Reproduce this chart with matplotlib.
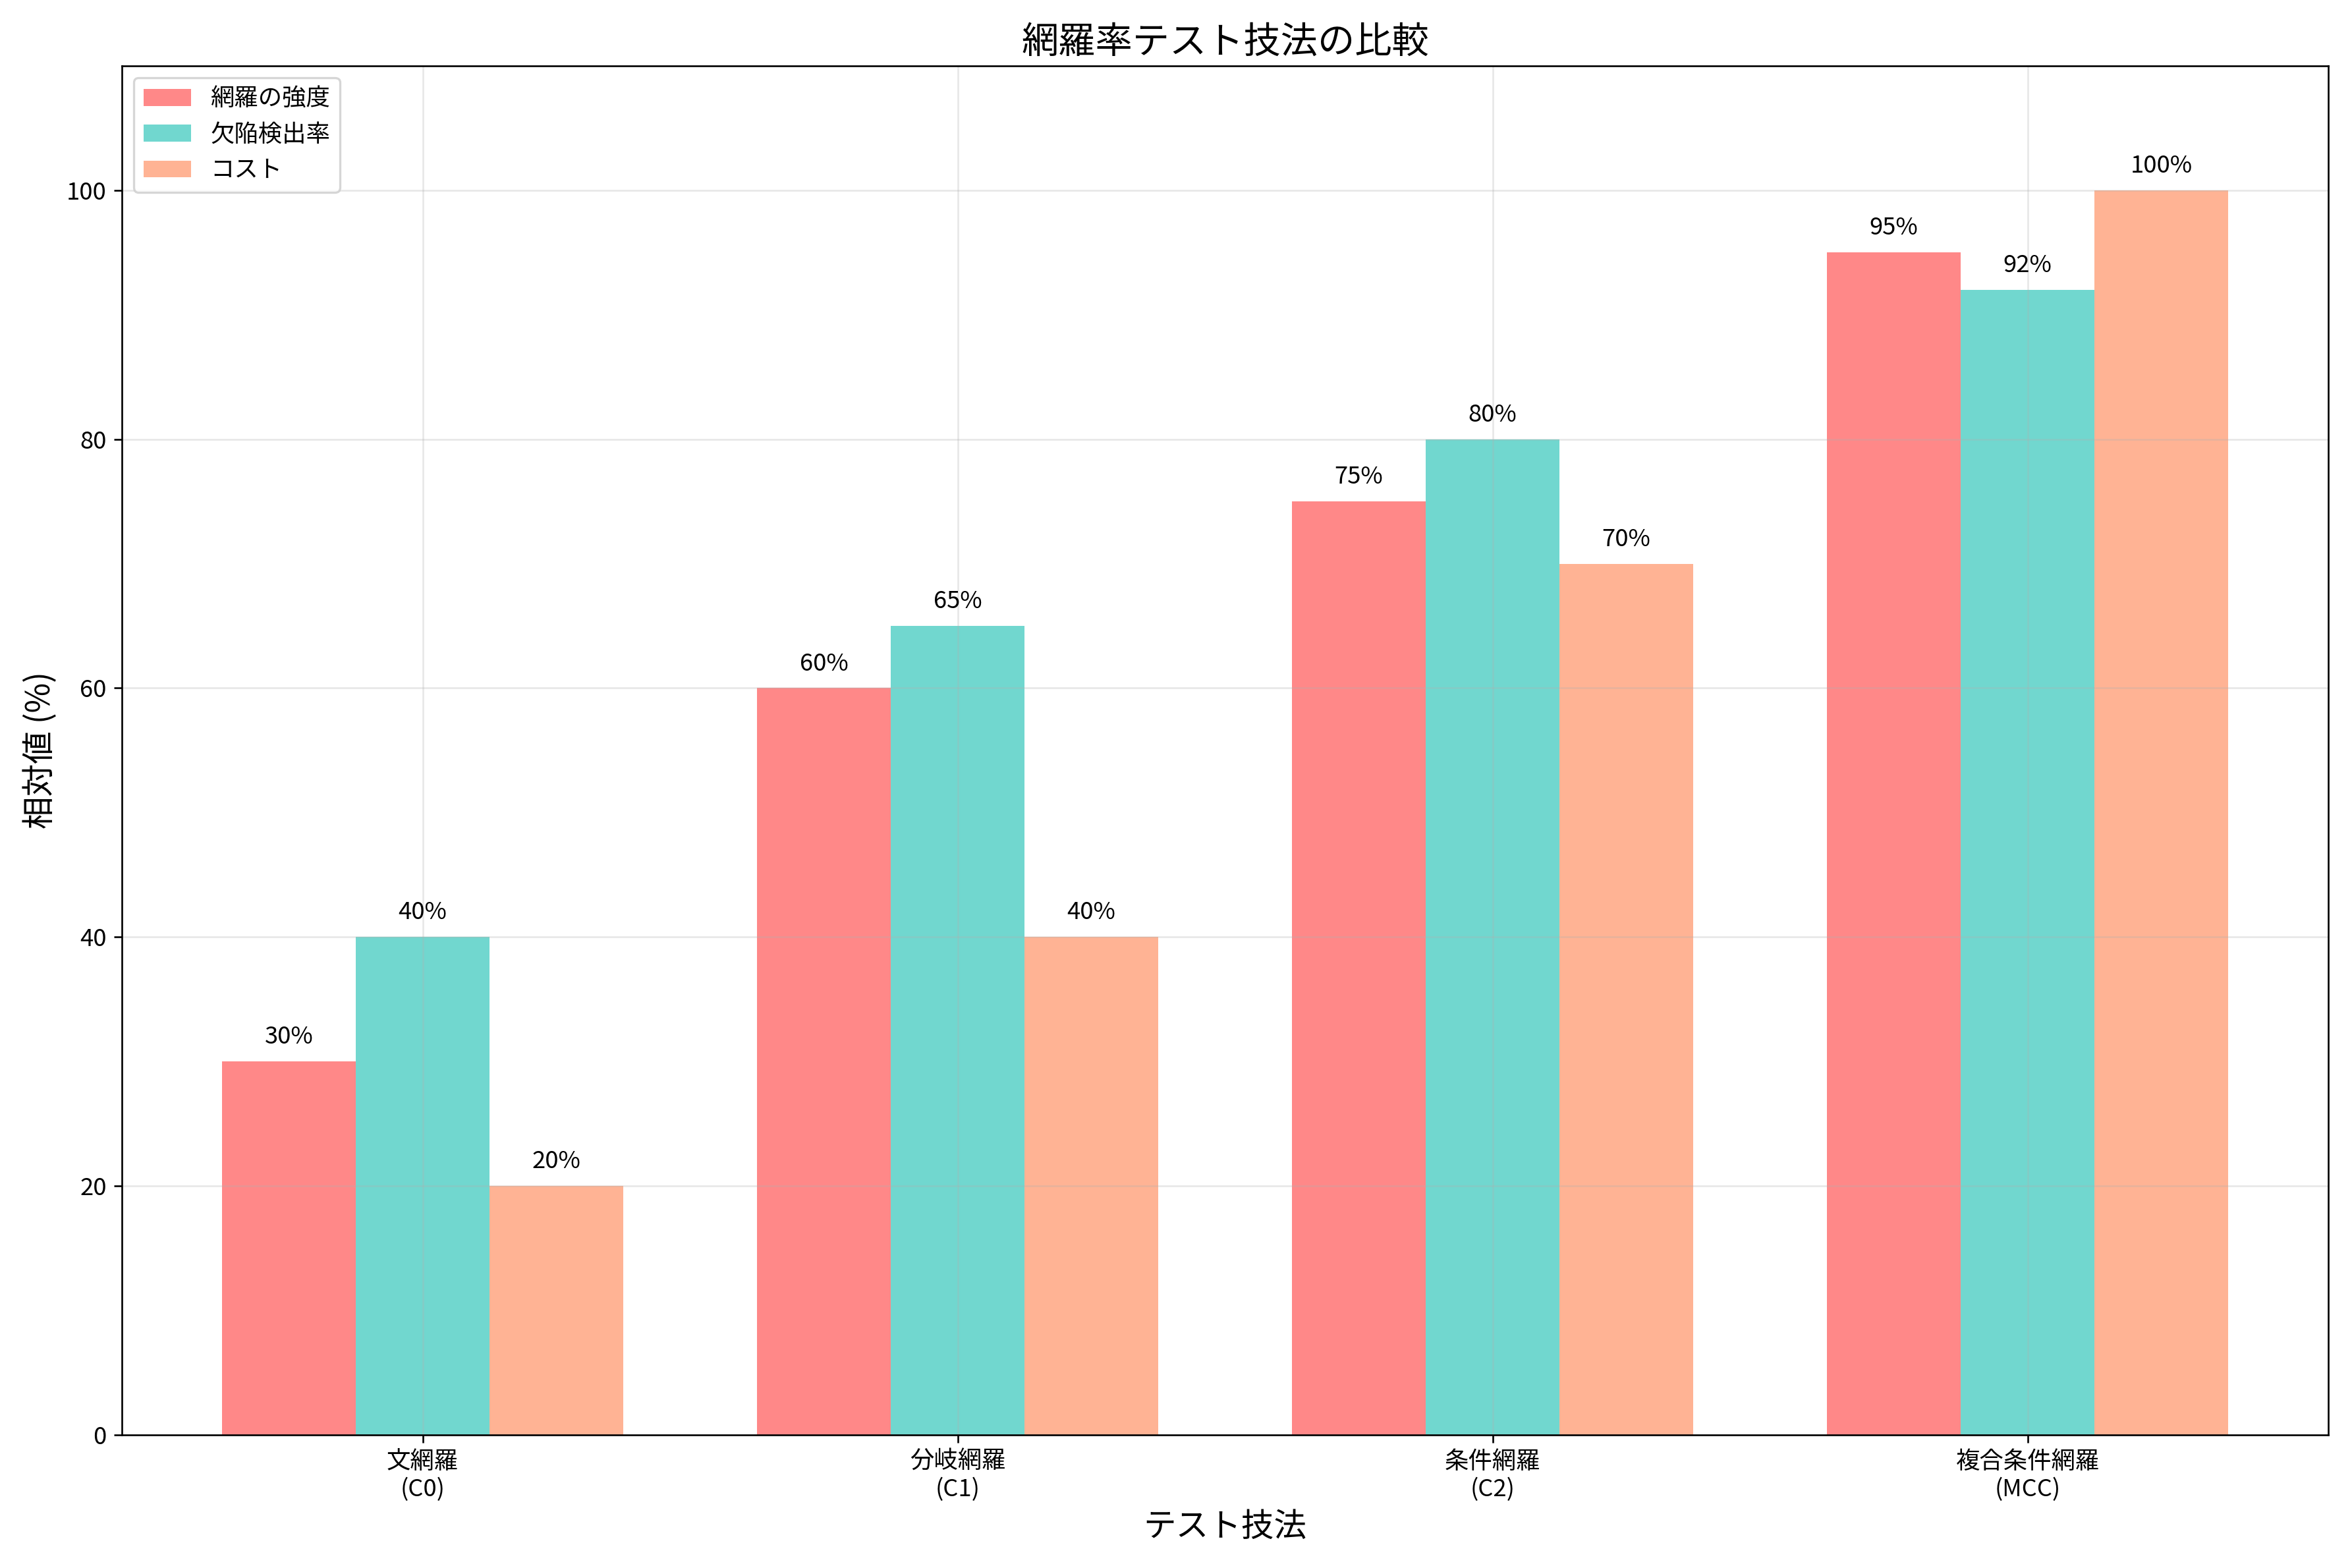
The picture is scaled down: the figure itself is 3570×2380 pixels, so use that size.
import matplotlib
matplotlib.use("Agg")
import matplotlib.pyplot as plt
import numpy as np

plt.rcParams["font.family"] = ["Noto Sans CJK JP", "DejaVu Sans"]

categories = ["文網羅\n(C0)", "分岐網羅\n(C1)", "条件網羅\n(C2)", "複合条件網羅\n(MCC)"]
series_names = ["網羅の強度", "欠陥検出率", "コスト"]
strength = [30, 60, 75, 95]
detection = [40, 65, 80, 92]
cost = [20, 40, 70, 100]
colors = ["#FF6B6B", "#4ECDC4", "#FFA07A"]

fig, ax = plt.subplots(figsize=(15, 10), dpi=238)
x = np.arange(len(categories))
w = 0.25
for i, (vals, name, c) in enumerate(zip([strength, detection, cost], series_names, colors)):
    bars = ax.bar(x + (i - 1) * w, vals, w, label=name, color=c, alpha=0.8)
    for b, v in zip(bars, vals):
        ax.text(b.get_x() + b.get_width() / 2, v + 1, f"{v}%", ha="center", va="bottom", fontsize=11)

ax.set_xticks(x)
ax.set_xticklabels(categories, fontsize=11)
ax.set_ylim(0, 110)
ax.set_xlabel("テスト技法", fontsize=15)
ax.set_ylabel("相対値 (%)", fontsize=15)
ax.set_title("網羅率テスト技法の比較", fontsize=17)
ax.legend(loc="upper left", fontsize=11)
ax.grid(True, alpha=0.3)
ax.tick_params(labelsize=11)
fig.tight_layout()
fig.savefig("out.png")
